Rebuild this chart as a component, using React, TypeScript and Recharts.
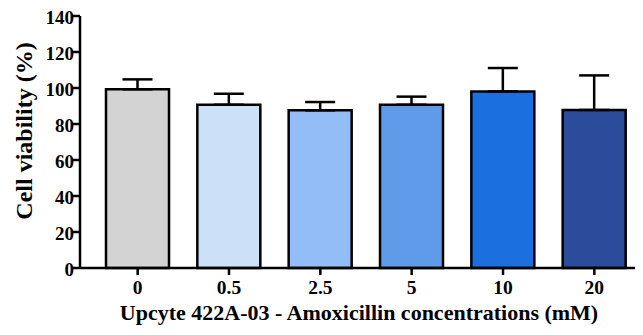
import React from 'react';
import { BarChart, Bar, XAxis, YAxis, ErrorBar, Cell, Label } from 'recharts';

// concentrations (mM) and measured viability
const concentrations = ['0', '0.5', '2.5', '5', '10', '20'];
const viability = [99.3, 90.7, 87.6, 90.7, 98.1, 87.8];
const sdUpper = [5.5, 6.1, 4.6, 4.5, 13.0, 19.2];
const barColors = ['#d3d3d3', '#cce0f8', '#92bdf7', '#5f9be8', '#1b6fdf', '#2b4b9b'];
const yTicks = [0, 20, 40, 60, 80, 100, 120, 140];

const data = concentrations.map((c, i) => ({
  conc: c,
  value: viability[i],
  err: [0, sdUpper[i]],
}));

const txt: React.CSSProperties = {
  fontFamily: 'Liberation Serif',
  fontWeight: 700,
  fill: '#000',
};

const XTick = ({ x, y, payload }: any) => (
  <text x={x} y={y + 17} textAnchor="middle" style={{ ...txt, fontSize: 19.5 }}>
    {payload.value}
  </text>
);

const YTick = ({ x, y, payload }: any) => (
  <text x={x + 4} y={y + 8} textAnchor="end" style={{ ...txt, fontSize: 19 }}>
    {payload.value}
  </text>
);

export default function App() {
  return (
    <div style={{ margin: -8, width: 643, height: 335, background: '#fff' }}>
      <BarChart
        width={643}
        height={335}
        data={data}
        margin={{ top: 16, right: 3, bottom: 0, left: 0 }}
        barSize={63}
      >
        <XAxis
          dataKey="conc"
          height={67}
          padding={{ left: 12, right: 0 }}
          axisLine={{ stroke: '#000', strokeWidth: 2.5 }}
          tickLine={{ stroke: '#000', strokeWidth: 2.5 }}
          tickSize={7}
          tick={<XTick />}
        >
          <Label
            content={() => (
              <text x={359} y={320} textAnchor="middle" style={{ ...txt, fontSize: 22 }}>
                Upcyte 422A-03 - Amoxicillin concentrations (mM)
              </text>
            )}
          />
        </XAxis>
        <YAxis
          width={80}
          domain={[0, 140]}
          ticks={yTicks}
          interval={0}
          axisLine={{ stroke: '#000', strokeWidth: 2.5 }}
          tickLine={{ stroke: '#000', strokeWidth: 2.5 }}
          tickSize={8}
          tick={<YTick />}
        >
          <Label
            content={() => (
              <text
                x={23.5}
                y={131}
                transform="rotate(-90 23.5 131)"
                textAnchor="middle"
                dominantBaseline="central"
                style={{ ...txt, fontSize: 24 }}
              >
                Cell viability (%)
              </text>
            )}
          />
        </YAxis>
        <Bar dataKey="value" stroke="#000" strokeWidth={2.5} isAnimationActive={false}>
          {data.map((d, i) => (
            <Cell key={d.conc} fill={barColors[i]} />
          ))}
          <ErrorBar dataKey="err" width={15} stroke="#000" strokeWidth={2.5} direction="y" />
        </Bar>
      </BarChart>
    </div>
  );
}
